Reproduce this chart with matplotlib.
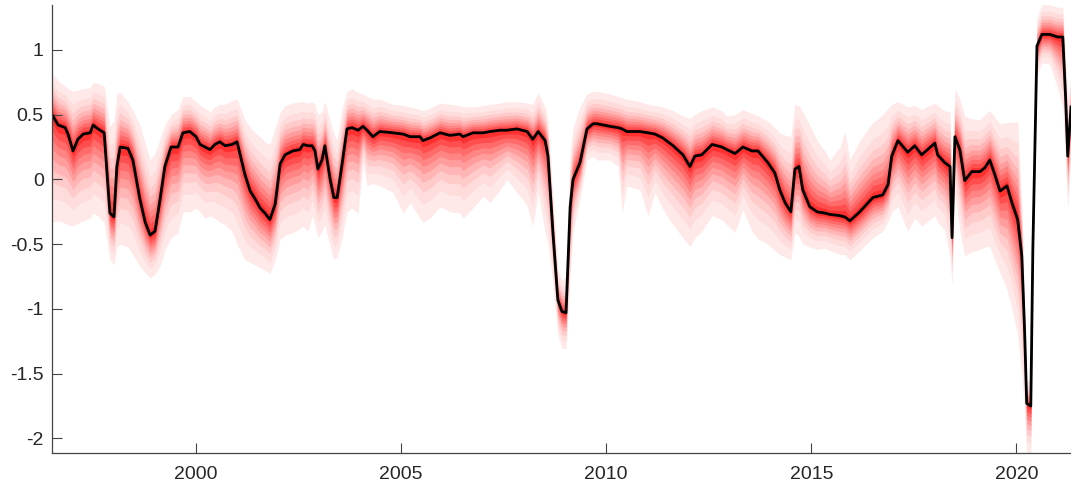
import numpy as np
import matplotlib.pyplot as plt

# Data (decimal years)

dates = [
    1996.49, 1996.64, 1996.81, 1996.88, 1997.00, 1997.12, 1997.25, 1997.42,
    1997.49, 1997.61, 1997.76, 1997.90, 1998.00, 1998.07, 1998.15, 1998.34,
    1998.46, 1998.63, 1998.76, 1998.88, 1999.00, 1999.12, 1999.24, 1999.39,
    1999.56, 1999.68, 1999.85, 2000.00, 2000.10, 2000.22, 2000.34, 2000.46,
    2000.58, 2000.71, 2000.88, 2001.00, 2001.19, 2001.32, 2001.44, 2001.56,
    2001.68, 2001.80, 2001.93, 2002.05, 2002.17, 2002.36, 2002.53, 2002.61,
    2002.73, 2002.83, 2002.90, 2002.97, 2003.07, 2003.14, 2003.27, 2003.36,
    2003.44, 2003.56, 2003.68, 2003.80, 2003.95, 2004.07, 2004.17, 2004.31,
    2004.48, 2004.80, 2005.05, 2005.22, 2005.46, 2005.53, 2005.70, 2005.95,
    2006.19, 2006.43, 2006.51, 2006.75, 2007.00, 2007.17, 2007.41, 2007.58,
    2007.82, 2008.07, 2008.21, 2008.34, 2008.51, 2008.58, 2008.70, 2008.82,
    2008.92, 2009.02, 2009.12, 2009.19, 2009.36, 2009.53, 2009.68, 2009.77,
    2010.09, 2010.29, 2010.39, 2010.50, 2010.82, 2011.02, 2011.19, 2011.38,
    2011.63, 2011.87, 2012.04, 2012.16, 2012.33, 2012.58, 2012.82, 2012.94,
    2013.14, 2013.33, 2013.55, 2013.70, 2013.94, 2014.11, 2014.23, 2014.36,
    2014.50, 2014.60, 2014.70, 2014.79, 2014.96, 2015.14, 2015.33, 2015.45,
    2015.70, 2015.82, 2015.94, 2016.18, 2016.50, 2016.74, 2016.87, 2016.96,
    2017.11, 2017.35, 2017.52, 2017.69, 2018.01, 2018.08, 2018.25, 2018.38,
    2018.43, 2018.50, 2018.62, 2018.74, 2018.91, 2019.11, 2019.23, 2019.35,
    2019.47, 2019.60, 2019.77, 2019.89, 2020.03, 2020.13, 2020.20, 2020.25,
    2020.35, 2020.40, 2020.50, 2020.62, 2020.81, 2021.01, 2021.13, 2021.20,
    2021.25, 2021.33,
]

median = [
    0.50, 0.42, 0.40, 0.35, 0.22, 0.31, 0.35, 0.36,
    0.42, 0.39, 0.36, -0.26, -0.29, 0.10, 0.25, 0.24,
    0.15, -0.15, -0.33, -0.43, -0.40, -0.16, 0.10, 0.25,
    0.25, 0.36, 0.37, 0.33, 0.27, 0.25, 0.23, 0.27,
    0.29, 0.26, 0.27, 0.29, 0.04, -0.09, -0.15, -0.22,
    -0.26, -0.31, -0.19, 0.12, 0.19, 0.22, 0.23, 0.27,
    0.26, 0.26, 0.22, 0.08, 0.15, 0.26, 0.00, -0.14,
    -0.14, 0.12, 0.39, 0.40, 0.38, 0.41, 0.38, 0.33,
    0.37, 0.36, 0.35, 0.33, 0.33, 0.30, 0.32, 0.36,
    0.34, 0.35, 0.33, 0.36, 0.36, 0.37, 0.38, 0.38,
    0.39, 0.37, 0.31, 0.37, 0.30, 0.18, -0.41, -0.93,
    -1.02, -1.03, -0.21, 0.00, 0.13, 0.39, 0.43, 0.43,
    0.41, 0.40, 0.39, 0.37, 0.37, 0.36, 0.35, 0.32,
    0.26, 0.19, 0.10, 0.18, 0.19, 0.27, 0.25, 0.23,
    0.20, 0.25, 0.22, 0.22, 0.13, 0.05, -0.08, -0.18,
    -0.25, 0.08, 0.10, -0.08, -0.21, -0.25, -0.26, -0.27,
    -0.28, -0.29, -0.32, -0.25, -0.14, -0.12, -0.04, 0.18,
    0.30, 0.21, 0.26, 0.19, 0.28, 0.19, 0.13, 0.10,
    -0.45, 0.33, 0.23, -0.01, 0.06, 0.06, 0.09, 0.15,
    0.04, -0.09, -0.05, -0.18, -0.31, -0.59, -1.18, -1.73,
    -1.75, -0.54, 1.03, 1.12, 1.12, 1.10, 1.10, 0.62,
    0.18, 0.56,
]

upper = [
    0.82, 0.76, 0.72, 0.70, 0.68, 0.69, 0.70, 0.71,
    0.75, 0.74, 0.72, 0.41, 0.45, 0.66, 0.67, 0.60,
    0.53, 0.42, 0.28, 0.15, 0.20, 0.31, 0.42, 0.50,
    0.54, 0.64, 0.64, 0.60, 0.57, 0.55, 0.52, 0.56,
    0.58, 0.58, 0.61, 0.62, 0.46, 0.40, 0.36, 0.33,
    0.29, 0.27, 0.40, 0.52, 0.57, 0.59, 0.60, 0.60,
    0.59, 0.60, 0.58, 0.50, 0.52, 0.60, 0.45, 0.35,
    0.30, 0.55, 0.68, 0.70, 0.67, 0.66, 0.64, 0.62,
    0.62, 0.58, 0.57, 0.56, 0.54, 0.53, 0.55, 0.59,
    0.58, 0.57, 0.56, 0.56, 0.57, 0.58, 0.59, 0.60,
    0.60, 0.59, 0.58, 0.67, 0.56, 0.45, -0.15, -0.70,
    -0.78, -0.75, 0.20, 0.40, 0.56, 0.66, 0.68, 0.68,
    0.66, 0.64, 0.63, 0.62, 0.60, 0.58, 0.57, 0.56,
    0.53, 0.49, 0.47, 0.50, 0.53, 0.56, 0.53, 0.49,
    0.50, 0.54, 0.51, 0.49, 0.45, 0.40, 0.36, 0.34,
    0.33, 0.58, 0.57, 0.52, 0.42, 0.30, 0.22, 0.15,
    0.25, 0.37, 0.15, 0.30, 0.44, 0.50, 0.55, 0.58,
    0.60, 0.56, 0.57, 0.54, 0.59, 0.57, 0.53, 0.52,
    0.05, 0.70, 0.62, 0.49, 0.47, 0.46, 0.50, 0.53,
    0.48, 0.43, 0.44, 0.44, 0.45, -0.20, -0.95, -1.55,
    -1.57, -0.40, 1.25, 1.35, 1.35, 1.33, 1.33, 0.90,
    0.62, 0.80,
]

lower = [
    -0.33, -0.32, -0.34, -0.35, -0.36, -0.34, -0.32, -0.30,
    -0.26, -0.28, -0.33, -0.62, -0.66, -0.52, -0.50, -0.52,
    -0.58, -0.67, -0.72, -0.76, -0.73, -0.67, -0.55, -0.45,
    -0.41, -0.25, -0.25, -0.22, -0.25, -0.30, -0.28, -0.30,
    -0.33, -0.35, -0.40, -0.50, -0.62, -0.64, -0.66, -0.68,
    -0.70, -0.73, -0.62, -0.46, -0.43, -0.41, -0.38, -0.36,
    -0.40, -0.28, -0.35, -0.45, -0.40, -0.35, -0.52, -0.62,
    -0.60, -0.45, -0.25, -0.22, -0.26, 0.13, -0.05, -0.03,
    -0.05, -0.10, -0.26, -0.18, -0.30, -0.33, -0.30, -0.21,
    -0.25, -0.26, -0.30, -0.22, -0.13, -0.18, -0.08, 0.00,
    -0.10, -0.20, -0.36, -0.10, -0.41, -0.50, -0.80, -1.20,
    -1.30, -1.31, -0.75, -0.40, -0.15, 0.15, 0.18, 0.15,
    0.15, 0.10, -0.26, -0.05, -0.08, -0.28, -0.10, -0.23,
    -0.35, -0.45, -0.52, -0.45, -0.40, -0.28, -0.31, -0.35,
    -0.41, -0.23, -0.40, -0.46, -0.50, -0.55, -0.58, -0.60,
    -0.62, -0.41, -0.44, -0.50, -0.52, -0.54, -0.53, -0.55,
    -0.58, -0.58, -0.62, -0.55, -0.45, -0.40, -0.33, -0.25,
    -0.21, -0.40, -0.30, -0.36, -0.28, -0.33, -0.39, -0.60,
    -0.82, -0.10, -0.40, -0.59, -0.56, -0.54, -0.52, -0.52,
    -0.62, -0.72, -0.85, -1.00, -1.20, -1.50, -1.80, -2.11,
    -2.12, -0.70, 0.80, 0.90, 0.89, 0.70, 0.55, 0.10,
    -0.23, 0.20,
]

x_ticks = [2000, 2005, 2010, 2015, 2020]
y_ticks = [-2, -1.5, -1, -0.5, 0, 0.5, 1]

# Normal quantiles 5%..45% relative to the 5% one (outer band -> inner band)
z_levels = [1.645, 1.282, 1.036, 0.842, 0.674, 0.524, 0.385, 0.253, 0.126]


def main():
    plt.rcParams["font.family"] = ["Liberation Sans", "DejaVu Sans"]
    plt.rcParams["axes.unicode_minus"] = False

    t = np.array(dates)
    med = np.array(median)
    up = np.array(upper)
    lo = np.array(lower)

    fig = plt.figure(figsize=(10.71, 4.92), dpi=100)
    ax = fig.add_axes([0.0486, 0.0787, 0.9514, 0.9111])

    # fan bands, outermost first (light pink -> red)
    n = len(z_levels)
    for k, z in enumerate(z_levels):
        frac = z / z_levels[0]
        shade = 0.91 - 0.72 * (k / (n - 1)) ** 1.3
        ax.fill_between(
            t,
            med - (med - lo) * frac,
            med + (up - med) * frac,
            color=(1.0, shade, shade),
            linewidth=0,
        )

    ax.plot(t, med, color="black", linewidth=2.0)

    ax.set_xlim(1996.49, 2021.33)
    ax.set_ylim(-2.115, 1.347)
    ax.set_xticks(x_ticks)
    ax.set_xticklabels([str(v) for v in x_ticks])
    ax.set_yticks(y_ticks)
    ax.set_yticklabels(["%g" % v for v in y_ticks])

    for side in ["top", "right"]:
        ax.spines[side].set_visible(False)
    for side in ["left", "bottom"]:
        ax.spines[side].set_color("#444444")
        ax.spines[side].set_linewidth(0.9)

    ax.tick_params(
        direction="in",
        length=7,
        width=0.8,
        color="#444444",
        labelcolor="#262626",
        labelsize=14,
    )
    ax.tick_params(axis="x", pad=9)
    ax.tick_params(axis="y", pad=6)

    plt.savefig("out.png", dpi=100)
    plt.close()


if __name__ == "__main__":
    main()
